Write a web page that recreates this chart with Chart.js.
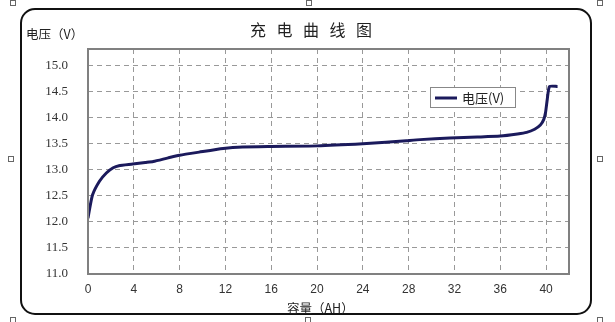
<!DOCTYPE html>
<html>
<head>
<meta charset="utf-8">
<script src="https://cdn.jsdelivr.net/npm/chart.js@4"></script>
<style>
  html, body { margin: 0; padding: 0; background: #fff; }
  #wrap { position: relative; width: 615px; height: 322px; overflow: hidden; }
  #frame {
    position: absolute; left: 20px; top: 8px; width: 568px; height: 303px;
    border: 2.5px solid #111; border-radius: 15px;
  }
  .handle {
    position: absolute; width: 4px; height: 4px;
    border: 1px solid #666; background: #fff;
  }
  canvas { position: absolute; left: 0; top: 0; }
</style>
</head>
<body>
<div id="wrap">
  <div id="frame"></div>
  <div class="handle" style="left:10px;top:0px"></div>
  <div class="handle" style="left:306px;top:0px"></div>
  <div class="handle" style="left:597px;top:0px"></div>
  <div class="handle" style="left:8px;top:156px"></div>
  <div class="handle" style="left:597px;top:156px"></div>
  <div class="handle" style="left:10px;top:317px"></div>
  <div class="handle" style="left:305px;top:317px"></div>
  <div class="handle" style="left:597px;top:317px"></div>
  <canvas id="chart" width="615" height="322"></canvas>
</div>
<script>
// capacity (AH) and voltage (V)
const capacity = [0, 0.1, 0.4, 1.0, 1.6, 2.2, 2.7, 3.9, 5.0, 5.7, 7.0, 8.0, 9.7, 11.8, 13.5, 16.0,
  20.0, 24.0, 26.0, 27.8, 29.0, 31.6, 34.0, 36.0, 37.5, 38.3, 39.0, 39.5, 39.8, 39.95, 40.1, 40.3, 41.0];
const voltage = [12.07, 12.2, 12.52, 12.78, 12.94, 13.04, 13.08, 13.11, 13.14, 13.16, 13.23, 13.28, 13.34, 13.41, 13.44, 13.45,
  13.46, 13.5, 13.53, 13.56, 13.58, 13.61, 13.63, 13.65, 13.69, 13.72, 13.78, 13.86, 13.97, 14.1, 14.35, 14.6, 14.6];
const seriesName = "电压(V)";
const chartTitle = "充电曲线图";
const yTitle = "电压（V）";
const xTitle = "容量（AH）";

const lineColor = "#1b1a5c";

// titles, legend box and plot border drawn on the canvas
const extras = {
  id: "extras",
  afterDraw(chart) {
    const ctx = chart.ctx;
    const a = chart.chartArea;
    ctx.save();
    // plot border
    ctx.strokeStyle = "#808080";
    ctx.lineWidth = 2;
    ctx.strokeRect(a.left, a.top, a.right - a.left, a.bottom - a.top);

    ctx.fillStyle = "#222";
    ctx.textBaseline = "middle";
    // main title
    ctx.font = "16px 'Noto Sans CJK SC'";
    ctx.letterSpacing = "10.5px";
    ctx.textAlign = "left";
    ctx.fillText(chartTitle, 250, 30);
    ctx.letterSpacing = "0px";
    // axis titles
    ctx.font = "12.5px 'Noto Sans CJK SC'";
    ctx.fillText(yTitle, 26, 34);
    ctx.fillText(xTitle, 287, 308);

    // legend
    const lx = 430, ly = 87;
    ctx.fillStyle = "#fff";
    ctx.fillRect(lx, ly, 85, 20);
    ctx.strokeStyle = "#888";
    ctx.lineWidth = 1;
    ctx.strokeRect(lx + 0.5, ly + 0.5, 85, 20);
    ctx.strokeStyle = lineColor;
    ctx.lineWidth = 3;
    ctx.beginPath();
    ctx.moveTo(lx + 5, ly + 11);
    ctx.lineTo(lx + 27, ly + 11);
    ctx.stroke();
    ctx.fillStyle = "#222";
    ctx.font = "13px 'Noto Sans CJK SC'";
    ctx.fillText(chart.data.datasets[0].label, lx + 32, ly + 11);
    ctx.restore();
  }
};

const ctx = document.getElementById("chart").getContext("2d");
new Chart(ctx, {
  type: "line",
  data: {
    datasets: [
      {
        label: seriesName,
        data: capacity.map((c, i) => ({ x: c, y: voltage[i] })),
        borderColor: lineColor,
        borderWidth: 3,
        pointRadius: 0,
        fill: false,
        tension: 0.2,
      },
    ],
  },
  options: {
    responsive: false,
    animation: false,
    layout: { padding: { top: 49, right: 46, left: 0, bottom: 0 } },
    plugins: {
      legend: { display: false },
      title: { display: false },
      tooltip: { enabled: false },
    },
    scales: {
      x: {
        type: "linear",
        min: 0,
        max: 42,
        afterFit: (scale) => { scale.height = 48; },
        ticks: {
          stepSize: 4,
          includeBounds: false,
          padding: 8,
          color: "#333",
          font: { family: "'Liberation Sans'", size: 12 },
        },
        grid: { color: "#999", lineWidth: 1, drawTicks: false },
        border: { display: false, dash: [5, 4] },
      },
      y: {
        min: 11,
        max: 15.32,
        afterFit: (scale) => { scale.width = 88; },
        ticks: {
          stepSize: 0.5,
          includeBounds: false,
          padding: 20,
          color: "#333",
          font: { family: "'Liberation Serif'", size: 13 },
          callback: (v) => v.toFixed(1),
        },
        grid: { color: "#999", lineWidth: 1, drawTicks: false },
        border: { display: false, dash: [5, 4] },
      },
    },
  },
  plugins: [extras],
});
</script>
</body>
</html>
